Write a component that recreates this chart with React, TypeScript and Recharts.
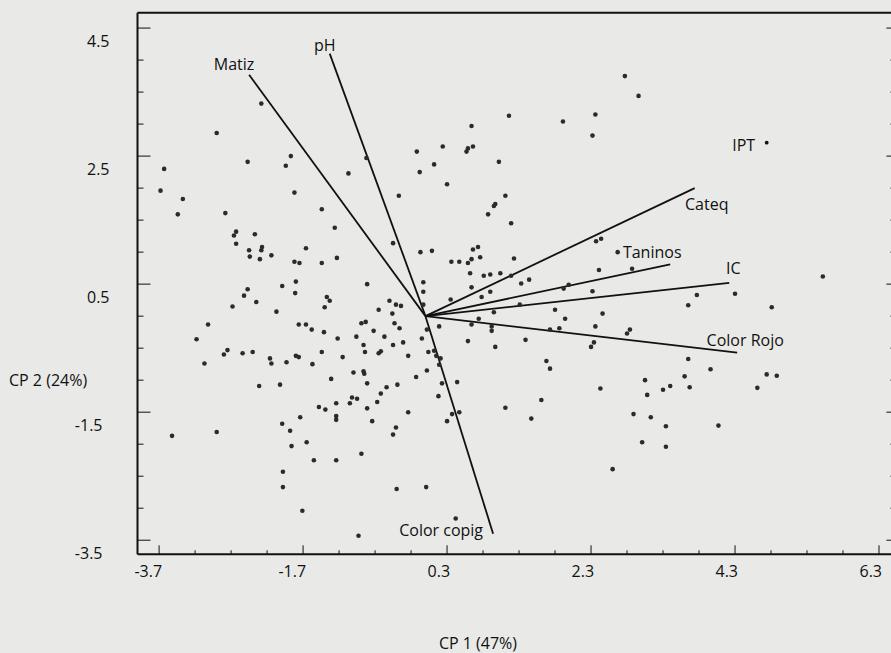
import React from "react";
import { ScatterChart, Scatter, XAxis, YAxis, ReferenceLine } from "recharts";

// axis ticks (minor every 0.5, labelled ones listed separately)
const xTicks = [-3.7, -3.2, -2.7, -2.2, -1.7, -1.2, -0.7, -0.2, 0.3, 0.8, 1.3, 1.8, 2.3, 2.8, 3.3, 3.8, 4.3, 4.8, 5.3, 5.8, 6.3];
const xLabels = [-3.7, -1.7, 0.3, 2.3, 4.3, 6.3];
const yTicks = [-3.5, -3, -2.5, -2, -1.5, -1, -0.5, 0, 0.5, 1, 1.5, 2, 2.5, 3, 3.5, 4, 4.5];
const yLabels = [-3.5, -1.5, 0.5, 2.5, 4.5];

// variable loadings (vectors from the origin)
const loadingNames = ["Matiz", "pH", "Cateq", "Taninos", "IC", "Color Rojo", "Color copig"];
const loadingPC1 = [-2.45, -1.33, 3.74, 3.4, 4.22, 4.33, 0.94];
const loadingPC2 = [3.77, 4.1, 2.0, 0.81, 0.52, -0.57, -3.4];

const iptName = "IPT";
const iptScore = [4.74, 2.71];

// sample scores [CP1, CP2]
const sampleScores: [number, number][] = [
  [-2.28, 3.32], [-2.9, 2.86], [-3.63, 2.3], [-2.47, 2.41], [-1.87, 2.5], [-1.94, 2.35],
  [-1.07, 2.23], [-0.82, 2.47], [-3.68, 1.96], [-3.37, 1.83], [-1.82, 1.93], [-0.37, 1.88],
  [2.77, 3.75], [2.96, 3.44], [1.16, 3.13], [2.36, 3.15], [1.91, 3.04], [0.64, 2.97],
  [2.32, 2.82], [-0.12, 2.57], [0.24, 2.65], [0.66, 2.65], [0.59, 2.62], [0.57, 2.57],
  [0.12, 2.37], [1.02, 2.41], [-0.08, 2.25], [0.3, 2.06], [1.11, 1.88],
  [-3.44, 1.59], [-2.78, 1.61], [-1.44, 1.67], [-1.26, 1.38], [-2.66, 1.26], [-2.63, 1.32],
  [-2.37, 1.28], [-2.63, 1.13], [-2.45, 1.03], [-2.28, 1.03], [-2.27, 1.08], [-2.44, 0.93],
  [-2.3, 0.89], [-2.14, 0.95], [-1.66, 1.06], [-1.82, 0.85], [-1.75, 0.83], [-1.44, 0.83],
  [-1.23, 0.91], [-0.45, 1.14], [-1.99, 0.47], [-1.8, 0.54], [-1.81, 0.36],
  [-2.47, 0.42], [-2.52, 0.32], [-2.35, 0.22], [-2.68, 0.15], [-2.07, 0.07], [-1.37, 0.3],
  [-1.33, 0.24], [-1.4, 0.14], [-0.81, 0.5], [-0.5, 0.24], [-0.41, 0.18], [-0.65, 0.1],
  [-0.46, 0.04], [-3.02, -0.13], [-3.18, -0.36], [-1.76, -0.13], [-1.66, -0.13], [-1.58, -0.21],
  [-1.41, -0.25], [-1.22, -0.35], [-0.89, -0.11], [-0.83, -0.09], [-0.72, -0.23], [-0.43, -0.11],
  [-0.36, -0.19], [-0.96, -0.32], [-0.57, -0.32], [-0.86, -0.45], [-0.84, -0.56], [-0.45, -0.45],
  [-0.65, -0.58], [-0.62, -0.55], [-3.07, -0.74], [-2.8, -0.6], [-2.75, -0.53], [-2.54, -0.58],
  [-2.4, -0.56], [-2.16, -0.66], [-2.14, -0.74], [-1.93, -0.72], [-1.8, -0.62], [-1.76, -0.64],
  [-1.44, -0.56], [-1.57, -0.75], [-1.15, -0.64], [-1.0, -0.88], [-0.86, -0.86], [-0.85, -0.9],
  [-1.31, -0.98], [-0.81, -1.05], [-0.54, -1.11], [-0.39, -1.07], [-2.31, -1.09], [-2.02, -1.07],
  [0.97, 1.75], [0.95, 1.72], [0.87, 1.59], [1.19, 1.45], [-0.07, 1.0], [0.09, 1.02],
  [0.66, 1.04], [0.73, 1.08], [0.76, 0.92], [0.36, 0.85], [0.47, 0.85], [0.59, 0.83],
  [0.64, 0.89], [1.23, 0.9], [0.62, 0.67], [0.81, 0.63], [0.9, 0.65], [1.04, 0.67],
  [1.19, 0.63], [-0.03, 0.53], [-0.03, 0.38], [-0.03, 0.18], [0.64, 0.45], [0.78, 0.3],
  [0.9, 0.38], [0.35, 0.26], [1.33, 0.51], [1.44, 0.57], [1.92, 0.43], [1.99, 0.49],
  [2.32, 0.39], [2.41, 0.72], [2.37, 1.17], [2.44, 1.21], [2.67, 1.0], [2.87, 0.74],
  [1.31, 0.18], [0.95, 0.06], [-0.34, 0.16], [-0.31, -0.41], [-0.05, -0.35], [0.02, -0.21],
  [0.19, -0.16], [0.64, -0.13], [0.74, -0.04], [0.92, -0.16], [0.92, -0.23], [0.59, -0.39],
  [0.97, -0.48], [1.39, -0.37], [1.8, 0.1], [1.94, -0.04], [1.73, -0.21], [1.86, -0.19],
  [2.36, -0.16], [2.46, 0.04], [2.8, -0.27], [2.84, -0.21], [2.3, -0.48], [2.34, -0.41],
  [1.68, -0.7], [1.73, -0.82], [-0.24, -0.62], [0.04, -0.56], [0.12, -0.54], [0.15, -0.62],
  [0.21, -0.66], [0.19, -0.76], [0.02, -0.85], [-0.13, -0.95], [0.23, -1.05], [0.44, -1.03],
  [3.05, -1.0], [2.43, -1.13], [3.4, -1.09], [3.3, -1.15], [3.77, 0.33], [3.65, 0.17],
  [4.3, 0.35], [4.81, 0.14], [5.52, 0.62], [3.65, -0.67], [3.96, -0.83], [3.6, -0.94],
  [4.74, -0.91], [4.88, -0.93], [3.67, -1.11], [4.61, -1.12], [-1.48, -1.42], [-1.39, -1.46],
  [-1.24, -1.36], [-1.05, -1.36], [-1.02, -1.27], [-0.95, -1.29], [-0.62, -1.21], [-0.67, -1.34],
  [-0.81, -1.44], [-1.24, -1.56], [-1.24, -1.62], [-1.74, -1.58], [-0.74, -1.64], [-1.99, -1.68],
  [-1.88, -1.79], [-1.86, -2.03], [-1.65, -1.97], [-0.41, -1.74], [-0.45, -1.85], [-3.52, -1.87],
  [-2.9, -1.81], [-1.55, -2.25], [-1.24, -2.25], [-0.89, -2.15], [-1.98, -2.43], [-1.98, -2.67],
  [-0.4, -2.7], [-1.71, -3.04], [-0.93, -3.43], [0.18, -1.25], [-0.24, -1.5],
  [0.37, -1.53], [0.47, -1.5], [0.3, -1.64], [1.11, -1.43], [1.61, -1.31], [1.47, -1.6],
  [3.08, -1.23], [2.89, -1.53], [3.13, -1.58], [3.34, -1.72], [3.01, -1.97], [3.34, -2.04],
  [2.6, -2.39], [0.01, -2.67], [0.42, -3.16], [4.07, -1.71],
];

// pixel offsets of the text labels from their anchor point
const labelOffset: Record<string, [number, number]> = {
  Matiz: [-15, -5],
  pH: [-5, -3],
  Cateq: [12, 22],
  Taninos: [-18, -6],
  IC: [4, -9],
  "Color Rojo": [8, -7],
  "Color copig": [-52, 2],
  IPT: [-23, 8],
};

const ink = "#111111";
const font = '"Open Sans", "Noto Sans", sans-serif';

const isIn = (list: number[], v: number) => list.some((t) => Math.abs(t - v) < 1e-6);

const BottomTick = (props: any) => {
  const { x, y, payload } = props;
  const major = isIn(xLabels, payload.value);
  return (
    <g>
      <line x1={x} x2={x} y1={y} y2={y - (major ? 9 : 4)} stroke={ink} strokeWidth={1} />
      {major && (
        <text x={x + 3} y={y + 23} textAnchor="end" fill={ink} fontSize={16} fontFamily={font}>
          {payload.value.toFixed(1)}
        </text>
      )}
    </g>
  );
};

const TopTick = (props: any) => {
  const { x, y, payload } = props;
  const major = isIn(xLabels, payload.value);
  return <line x1={x} x2={x} y1={y} y2={y + (major ? 10 : 5)} stroke={ink} strokeWidth={1} />;
};

const LeftTick = (props: any) => {
  const { x, y, payload } = props;
  const major = isIn(yLabels, payload.value);
  return (
    <g>
      <line x1={x} x2={x + (major ? 13 : 6)} y1={y} y2={y} stroke={ink} strokeWidth={1} />
      {major && (
        <text
          x={x - (payload.value < 0 ? 35 : 28)}
          y={y + 19}
          textAnchor="end"
          fill={ink}
          fontSize={16}
          fontFamily={font}
        >
          {payload.value.toFixed(1)}
        </text>
      )}
    </g>
  );
};

const RightTick = (props: any) => {
  const { x, y, payload } = props;
  const major = isIn(yLabels, payload.value);
  return <line x1={x} x2={x - (major ? 7 : 3)} y1={y} y2={y} stroke={ink} strokeWidth={1} />;
};

export default function App() {
  const samples = sampleScores.map(([x, y]) => ({ x, y }));
  const loadings = loadingNames.map((name, i) => ({ name, x: loadingPC1[i], y: loadingPC2[i] }));
  const ipt = [{ name: iptName, x: iptScore[0], y: iptScore[1] }];

  const dot = (p: any) => <circle cx={p.cx} cy={p.cy} r={2.3} fill="#2b2b2b" />;

  const labelShape = (p: any) => {
    const [dx, dy] = labelOffset[p.payload.name] || [0, 0];
    return (
      <text x={p.cx + dx} y={p.cy + dy} textAnchor="middle" fill={ink} fontSize={16} fontFamily={font}>
        {p.payload.name}
      </text>
    );
  };

  const iptShape = (p: any) => {
    const [dx, dy] = labelOffset[p.payload.name] || [0, 0];
    return (
      <g>
        <circle cx={p.cx} cy={p.cy} r={1.9} fill="#111" />
        <text x={p.cx + dx} y={p.cy + dy} textAnchor="middle" fill={ink} fontSize={16} fontFamily={font}>
          {p.payload.name}
        </text>
      </g>
    );
  };

  return (
    <div
      style={{
        position: "fixed",
        left: 0,
        top: 0,
        width: 891,
        height: 653,
        overflow: "hidden",
        background: "#e9e9e8",
      }}
    >
      <ScatterChart width={900} height={653} margin={{ top: 0, right: 0, bottom: 0, left: 0 }}>
        <XAxis
          xAxisId="b"
          type="number"
          dataKey="x"
          orientation="bottom"
          domain={[-4, 6.5]}
          ticks={xTicks}
          interval={0}
          allowDataOverflow
          height={98.7}
          tickSize={0}
          tickMargin={0}
          tick={BottomTick}
          axisLine={{ stroke: ink, strokeWidth: 2 }}
          label={(props: any) => {
            const vb = props.viewBox;
            return (
              <text x={vb.x + 340.5} y={vb.y + 95} textAnchor="middle" fill={ink} fontSize={16} fontFamily={font}>
                CP 1 (47%)
              </text>
            );
          }}
        />
        <XAxis
          xAxisId="t"
          type="number"
          orientation="top"
          domain={[-4, 6.5]}
          ticks={xTicks}
          interval={0}
          allowDataOverflow
          height={12.7}
          tickSize={0}
          tickMargin={0}
          tick={TopTick}
          axisLine={{ stroke: ink, strokeWidth: 2 }}
        />
        <YAxis
          yAxisId="l"
          type="number"
          dataKey="y"
          orientation="left"
          domain={[-3.72, 4.74]}
          ticks={yTicks}
          interval={0}
          allowDataOverflow
          width={137.5}
          tickSize={0}
          tickMargin={0}
          tick={LeftTick}
          axisLine={{ stroke: ink, strokeWidth: 2 }}
          label={() => (
            <text x={9} y={386} textAnchor="start" fill={ink} fontSize={16} fontFamily={font}>
              CP 2 (24%)
            </text>
          )}
        />
        <YAxis
          yAxisId="r"
          type="number"
          orientation="right"
          domain={[-3.72, 4.74]}
          ticks={yTicks}
          interval={0}
          allowDataOverflow
          width={6.6}
          tickSize={0}
          tickMargin={0}
          tick={RightTick}
          axisLine={{ stroke: ink, strokeWidth: 2 }}
        />

        <Scatter data={samples} xAxisId="b" yAxisId="l" shape={dot} isAnimationActive={false} />

        {loadings.map((l) => (
          <ReferenceLine
            key={l.name}
            xAxisId="b"
            yAxisId="l"
            segment={[
              { x: 0, y: 0 },
              { x: l.x, y: l.y },
            ]}
            stroke={ink}
            strokeWidth={1.8}
            ifOverflow="visible"
          />
        ))}

        <Scatter data={loadings} xAxisId="b" yAxisId="l" shape={labelShape} isAnimationActive={false} />
        <Scatter data={ipt} xAxisId="b" yAxisId="l" shape={iptShape} isAnimationActive={false} />
      </ScatterChart>
    </div>
  );
}
